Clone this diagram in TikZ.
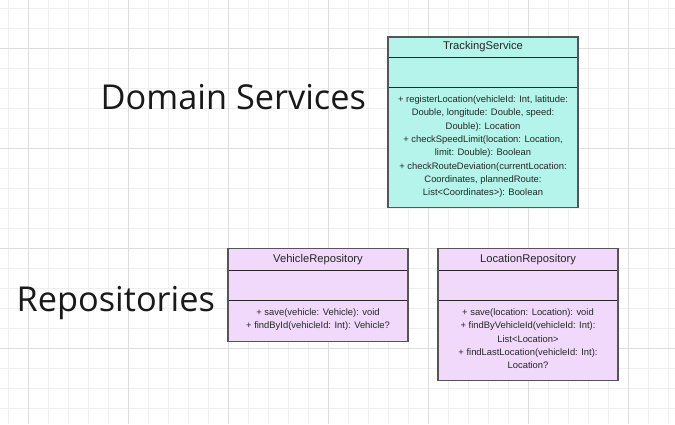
\documentclass[tikz,border=0pt]{standalone}
\usepackage{fontspec}
\setmainfont{Open Sans}
\newfontfamily\boxfont{Liberation Sans}
\definecolor{gridminor}{HTML}{EFEFEF}
\definecolor{gridmajor}{HTML}{DDDDDD}
\definecolor{tealfill}{HTML}{B4F4EA}
\definecolor{purplefill}{HTML}{F1D9FC}
\definecolor{boxline}{HTML}{555555}
\definecolor{boxtext}{HTML}{262626}
\tikzset{
  umlbox/.style={draw=boxline, line width=1.6pt},
  sepline/.style={draw=black!85, line width=0.9pt},
  titletext/.style={font=\boxfont\fontsize{11.2}{13}\selectfont, text=boxtext, inner sep=0pt},
  bodytext/.style={font=\boxfont\fontsize{9.4}{13.3}\selectfont, text=boxtext, inner sep=0pt, align=center},
  bigtext/.style={font=\fontsize{34.3}{40}\selectfont, text=black!90, inner sep=0pt, anchor=base west},
}
\begin{document}
\begin{tikzpicture}[x=1pt,y=-1pt]
\useasboundingbox (0,0) rectangle (675,424);
\fill[white] (0,0) rectangle (675,424);
% grid
\foreach \i in {0,...,33} {\draw[gridminor, line width=0.8pt] (8+20*\i,0) -- (8+20*\i,424);}
\foreach \i in {0,...,20} {\draw[gridminor, line width=0.8pt] (0,8+20*\i) -- (675,8+20*\i);}
\foreach \i in {0,...,6} {\draw[gridmajor, line width=0.8pt] (28+100*\i,0) -- (28+100*\i,424);}
\foreach \i in {0,...,3} {\draw[gridmajor, line width=0.8pt] (0,48+100*\i) -- (675,48+100*\i);}

% headings
\node[bigtext] (domain) at (100.5,109.5) {Domain Services};
\node[bigtext] (repos) at (16.5,311.5) {Repositories};

% TrackingService
\fill[tealfill] (388,37) rectangle (578,207.5);
\draw[sepline] (388,57.3) -- (578,57.3);
\draw[sepline] (388,87.3) -- (578,87.3);
\draw[umlbox] (388,37) rectangle (578,207.5);
\node[titletext] (tstitle) at (483,47) {TrackingService};
\node[bodytext, anchor=north] (tsbody) at (483,95.5) {+ registerLocation(vehicleId: Int, latitude:\\Double, longitude: Double, speed:\\Double): Location\\+ checkSpeedLimit(location: Location,\\limit: Double): Boolean\\+ checkRouteDeviation(currentLocation:\\Coordinates, plannedRoute:\\List<Coordinates>): Boolean};

% VehicleRepository
\fill[purplefill] (228,248.5) rectangle (408,341.5);
\draw[sepline] (228,270) -- (408,270);
\draw[sepline] (228,300) -- (408,300);
\draw[umlbox] (228,248.5) rectangle (408,341.5);
\node[titletext] (vrtitle) at (318,260) {VehicleRepository};
\node[bodytext, anchor=north] (vrbody) at (318,308.5) {+ save(vehicle: Vehicle): void\\+ findById(vehicleId: Int): Vehicle?};

% LocationRepository
\fill[purplefill] (438,248.5) rectangle (618,380.5);
\draw[sepline] (438,270) -- (618,270);
\draw[sepline] (438,300) -- (618,300);
\draw[umlbox] (438,248.5) rectangle (618,380.5);
\node[titletext] (lrtitle) at (528,260) {LocationRepository};
\node[bodytext, anchor=north] (lrbody) at (528,308.5) {+ save(location: Location): void\\+ findByVehicleId(vehicleId: Int):\\List<Location>\\+ findLastLocation(vehicleId: Int):\\Location?};
\end{tikzpicture}
\end{document}
